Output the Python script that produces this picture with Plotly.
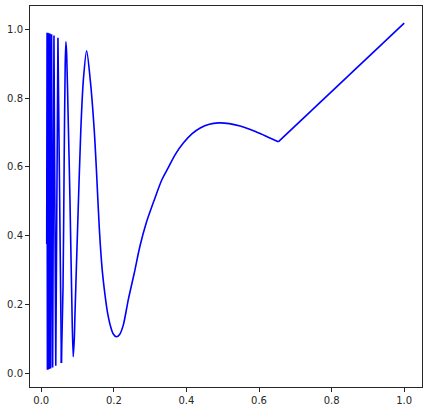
import plotly.graph_objects as go

# curve points (ascending x)
# fast oscillations near zero
x_dense = [0.0150, 0.0152, 0.0160, 0.0169, 0.0180, 0.0192, 0.0205, 0.0220, 0.0238,
           0.0259, 0.0284, 0.0314, 0.0350, 0.0400, 0.0460, 0.0555]
y_dense = [0.376, 0.010, 0.990, 0.010, 0.990, 0.011, 0.989, 0.012, 0.988,
           0.014, 0.986, 0.017, 0.982, 0.022, 0.976, 0.030]

# smooth lobes up to the kink
x_smooth = [0.0555, 0.0600, 0.0630, 0.0660, 0.0680, 0.0700, 0.0740, 0.0790, 0.0840,
            0.0880, 0.0910, 0.0930, 0.1000, 0.1090, 0.1160, 0.1250, 0.1350, 0.1460,
            0.1530, 0.1600, 0.1680, 0.1760, 0.1820, 0.1900, 0.1980, 0.2070, 0.2160,
            0.2260, 0.2400, 0.2560, 0.2720, 0.2900, 0.3100, 0.3320, 0.3500, 0.3690,
            0.3920, 0.4150, 0.4380, 0.4630, 0.4880, 0.5180, 0.5480, 0.5760, 0.6030,
            0.6300, 0.6530]
y_smooth = [0.030, 0.250, 0.600, 0.900, 0.964, 0.930, 0.750, 0.510, 0.220,
            0.048, 0.100, 0.175, 0.417, 0.707, 0.853, 0.938, 0.853, 0.707,
            0.570, 0.420, 0.300, 0.225, 0.180, 0.140, 0.115, 0.106, 0.113,
            0.140, 0.215, 0.290, 0.370, 0.440, 0.500, 0.562, 0.598, 0.636,
            0.670, 0.696, 0.713, 0.724, 0.728, 0.726, 0.719, 0.709, 0.697,
            0.684, 0.673]

# straight tail
x_tail = [0.6530, 1.0000]
y_tail = [0.673, 1.018]

tick_vals = [0.0, 0.2, 0.4, 0.6, 0.8, 1.0]
tick_text = ["0.0", "0.2", "0.4", "0.6", "0.8", "1.0"]

fig = go.Figure()
line = dict(color="#0000ff", width=1.6)
fig.add_trace(go.Scatter(x=x_dense, y=y_dense, mode="lines", line=line, showlegend=False))
fig.add_trace(go.Scatter(x=x_smooth, y=y_smooth, mode="lines",
                         line=dict(shape="spline", smoothing=0.8, **line), showlegend=False))
fig.add_trace(go.Scatter(x=x_tail, y=y_tail, mode="lines", line=line, showlegend=False))

axis_style = dict(
    showline=True, mirror=True, linecolor="#262626", linewidth=1,
    showgrid=False, zeroline=False,
    ticks="outside", ticklen=4, tickwidth=1, tickcolor="#262626",
    tickvals=tick_vals, ticktext=tick_text,
    tickfont=dict(family="DejaVu Sans", size=10, color="#262626"),
)

fig.update_layout(
    width=427, height=411,
    margin=dict(l=30, r=5, t=6, b=24),
    paper_bgcolor="white", plot_bgcolor="white",
    xaxis=dict(range=[-0.031, 1.049], **axis_style),
    yaxis=dict(range=[-0.040, 1.068], **axis_style),
)

fig.write_html("out.html", config={"displayModeBar": False},
               post_script="document.body.style.margin='0';")
